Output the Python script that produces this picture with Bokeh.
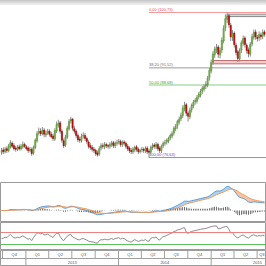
import numpy as np
import pandas as pd
from bokeh.plotting import figure
from bokeh.models import Range1d, Div, Span
from bokeh.layouts import column
from bokeh.embed import file_html
from bokeh.resources import INLINE

# ---------------- data (weekly candles) ----------------
first_week = "2012-09-27"

opens = [77.5, 77.9, 77.6, 78.1, 77.8, 78.4, 79.0, 78.6, 78.2, 78.0,
         78.4, 78.1, 78.4, 78.8, 78.4, 78.2, 77.8, 78.0, 77.4, 78.3,
         79.4, 80.7, 81.0, 80.6, 81.2, 80.4, 80.7, 81.0, 80.5, 80.2,
         79.7, 81.0, 82.0, 82.4, 81.0, 79.4, 78.7, 80.0, 81.4, 82.7,
         83.0, 81.4, 81.0, 80.3, 79.7, 79.4, 80.2, 80.3, 79.8, 79.2,
         78.6, 78.3, 78.0, 77.8, 77.4, 77.2, 78.2, 78.6, 78.4, 78.8,
         78.6, 78.5, 78.8, 79.1, 78.6, 79.0, 79.2, 79.3, 78.8, 79.2,
         79.0, 78.5, 78.2, 77.8, 77.6, 77.9, 78.4, 78.0, 77.6, 77.9,
         78.0, 77.8, 78.2, 77.7, 77.5, 78.3, 78.7, 78.4, 78.8, 78.2,
         77.8, 78.6, 79.0, 79.2, 79.4, 79.9, 80.2, 80.7, 81.4, 81.9,
         82.5, 83.1, 83.6, 84.8, 85.4, 84.0, 83.4, 84.6, 85.2, 85.9,
         86.0, 86.7, 87.0, 87.7, 88.0, 88.5, 88.7, 89.9, 91.0, 92.5,
         93.7, 94.5, 95.0, 93.7, 94.5, 96.0, 98.2, 99.6, 100.2, 98.6,
         96.6, 97.3, 95.3, 94.2, 93.0, 94.5, 95.6, 96.5, 95.3, 94.5,
         93.8, 95.5, 96.6, 97.5, 96.6, 96.5, 97.0, 96.8, 97.5]

highs = [78.2, 78.3, 78.4, 78.5, 78.9, 79.5, 79.3, 79.0, 78.6, 78.7,
         78.8, 78.9, 79.3, 79.1, 78.7, 78.5, 78.4, 78.3, 78.6, 79.8,
         81.0, 81.6, 81.5, 81.7, 81.5, 81.1, 81.4, 81.3, 80.9, 80.6,
         81.5, 82.6, 82.9, 82.7, 81.3, 79.8, 80.4, 81.9, 83.0, 83.4,
         83.2, 81.9, 81.3, 80.6, 80.1, 80.6, 80.8, 80.7, 80.1, 79.5,
         79.0, 78.7, 78.4, 78.1, 77.8, 78.5, 79.0, 79.0, 79.2, 79.1,
         78.9, 79.2, 79.4, 79.4, 79.3, 79.6, 79.7, 79.6, 79.5, 79.5,
         79.3, 78.9, 78.5, 78.2, 78.4, 78.6, 78.7, 78.3, 78.1, 78.4,
         78.3, 78.5, 78.5, 78.0, 78.6, 79.0, 79.0, 79.2, 79.1, 78.5,
         78.8, 79.3, 79.6, 79.8, 80.1, 80.6, 81.0, 81.8, 82.2, 82.9,
         83.4, 84.1, 85.3, 85.9, 85.7, 84.3, 84.9, 85.6, 86.2, 86.5,
         87.0, 87.5, 88.0, 88.5, 88.8, 89.3, 90.2, 91.5, 92.9, 94.3,
         95.1, 95.5, 95.3, 94.9, 96.6, 98.6, 100.4, 100.73, 100.5, 99.0,
         97.8, 97.6, 95.7, 94.5, 94.8, 96.1, 96.9, 96.8, 95.6, 94.9,
         95.8, 97.2, 97.9, 97.9, 97.0, 97.6, 97.4, 97.9, 97.8]

lows = [77.1, 77.2, 77.3, 77.4, 77.5, 78.1, 78.2, 77.8, 77.6, 77.7,
        77.8, 77.8, 78.1, 78.2, 77.8, 77.4, 77.5, 76.9, 77.1, 78.0,
        79.1, 80.3, 80.2, 80.3, 80.0, 80.0, 80.4, 80.1, 79.8, 79.4,
        79.4, 80.7, 81.6, 80.6, 79.1, 78.2, 78.4, 79.7, 81.1, 82.3,
        81.1, 80.6, 79.9, 79.2, 79.1, 79.1, 79.8, 79.4, 78.9, 78.1,
        77.9, 77.6, 77.4, 76.9, 76.8, 76.9, 77.8, 78.1, 78.0, 78.2,
        78.1, 78.1, 78.4, 78.2, 78.2, 78.6, 78.8, 78.4, 78.4, 78.6,
        78.1, 77.7, 77.4, 77.2, 77.2, 77.5, 77.6, 77.2, 77.3, 77.5,
        77.4, 77.4, 77.2, 76.63, 77.1, 77.9, 78.1, 78.0, 77.7, 77.4,
        77.4, 78.2, 78.6, 78.8, 79.0, 79.5, 79.8, 80.3, 81.0, 81.4,
        82.1, 82.7, 83.2, 84.3, 83.5, 82.6, 83.0, 84.1, 84.8, 85.4,
        85.6, 86.3, 86.6, 87.2, 87.6, 88.0, 88.3, 89.4, 90.6, 92.0,
        93.2, 94.0, 93.2, 93.1, 94.0, 95.6, 97.6, 99.0, 98.2, 96.0,
        96.0, 94.9, 93.6, 92.5, 92.6, 94.0, 95.2, 94.9, 93.9, 93.3,
        93.4, 95.1, 96.2, 96.2, 95.9, 96.0, 96.2, 96.3, 96.7]

closes = [77.8, 77.6, 78.0, 77.8, 78.5, 79.1, 78.5, 78.1, 78.0, 78.3,
          78.1, 78.5, 78.8, 78.5, 78.1, 77.8, 78.0, 77.3, 78.3, 79.5,
          80.6, 81.0, 80.6, 81.1, 80.5, 80.6, 81.0, 80.5, 80.1, 79.8,
          81.1, 82.1, 82.3, 81.0, 79.5, 78.6, 80.0, 81.5, 82.6, 83.0,
          81.5, 81.0, 80.3, 79.6, 79.5, 80.1, 80.3, 79.8, 79.3, 78.5,
          78.3, 78.0, 77.8, 77.3, 77.1, 78.1, 78.6, 78.5, 78.8, 78.6,
          78.5, 78.8, 79.0, 78.6, 79.0, 79.1, 79.3, 78.8, 79.1, 79.0,
          78.5, 78.1, 77.8, 77.6, 78.0, 78.3, 78.0, 77.6, 77.8, 78.0,
          77.8, 78.1, 77.6, 77.5, 78.3, 78.6, 78.5, 78.8, 78.1, 77.8,
          78.5, 79.0, 79.1, 79.5, 79.8, 80.3, 80.6, 81.5, 81.8, 82.6,
          83.0, 83.6, 84.8, 85.3, 84.0, 83.5, 84.5, 85.3, 85.8, 86.1,
          86.6, 87.1, 87.6, 88.1, 88.4, 88.8, 89.8, 91.1, 92.4, 93.8,
          94.6, 94.9, 93.8, 94.4, 96.1, 98.1, 99.7, 100.1, 98.7, 96.7,
          97.2, 95.4, 94.1, 93.1, 94.4, 95.7, 96.4, 95.4, 94.4, 93.9,
          95.4, 96.7, 97.4, 96.7, 96.4, 97.1, 96.7, 97.4, 97.1]

# Fibonacci retracement (from the low week to the high week)
fib_high = 100.73
fib_low = 76.63
fib_anchor_week = 83
fib_pcts = [0.0, 38.2, 50.0, 100.0]
fib_labels = ["0,00 (100,73)", "38,20 (91,52)", "50,00 (88,68)", "100,00 (76,63)"]

# drawn rectangles (price zones)
resist_zone = [100.05, 100.45]
resist_start_week = 127
support_zone = [92.2, 92.75]
support_start_week = 119

# time axis
quarter_starts = ["2012-10-01", "2013-01-01", "2013-04-01", "2013-07-01",
                  "2013-10-01", "2014-01-01", "2014-04-01", "2014-07-01", "2014-10-01",
                  "2015-01-01", "2015-04-01", "2015-07-01", "2015-10-01"]
quarter_labels = ["Q4", "Q1", "Q2", "Q3", "Q4", "Q1", "Q2", "Q3", "Q4",
                  "Q1", "Q2", "Q3"]
year_starts = ["2013-01-01", "2014-01-01", "2015-01-01", "2016-01-01"]
year_labels = ["2013", "2014", "2015"]

view_start = "2012-09-23"
view_end = "2015-08-07"

# ---------------- derived ----------------
dates = pd.date_range(first_week, periods=len(closes), freq="7D")
o = np.array(opens); c = np.array(closes)
h = np.array(highs); l = np.array(lows)
up = c >= o

x0 = pd.Timestamp(view_start); x1 = pd.Timestamp(view_end)
DAY = 86400000

def ema(arr, n):
    a = 2.0 / (n + 1)
    out = [arr[0]]
    for v in arr[1:]:
        out.append(out[-1] + a * (v - out[-1]))
    return np.array(out)

macd = ema(c, 12) - ema(c, 26)
signal = ema(macd, 9)
hist = macd - signal

diff = np.diff(c)
gains = np.where(diff > 0, diff, 0.0)
losses = np.where(diff < 0, -diff, 0.0)
ag = gains[:14].mean(); al = losses[:14].mean()
rsi = [50.0]
for g_, l_ in zip(gains, losses):
    ag = (ag * 13 + g_) / 14
    al = (al * 13 + l_) / 14
    rsi.append(100 - 100 / (1 + ag / al) if al > 0 else 100)
rsi = np.array(rsi)

W = 266
common = dict(width=W, x_axis_type="datetime", output_backend="svg",
              toolbar_location=None, min_border=0)

# top gradient strip
strip = Div(width=W, height=5, margin=0,
            styles={"background": "linear-gradient(#c4c4c4, #f4f4f4)"})

# ---------------- main price panel ----------------
p = figure(height=177, x_range=Range1d(x0, x1), y_range=Range1d(72.48, 101.89), **common)
p.axis.visible = False
p.grid.visible = False
p.outline_line_color = None

anchor = dates[fib_anchor_week]
fib_levels = [fib_high - pc / 100.0 * (fib_high - fib_low) for pc in fib_pcts]
fib_line_colors = ["#f29a9a", "#9a9a9a", "#86cc86", "#8c8cf0"]
fib_text_colors = ["#e05050", "#707070", "#40a040", "#5050d0"]

# zones
p.quad(left=[dates[resist_start_week]], right=[x1], bottom=[resist_zone[0]], top=[resist_zone[1]],
       fill_color="#d8d8d8", line_color="#8a8a8a", line_width=1)
p.quad(left=[dates[support_start_week]], right=[x1], bottom=[support_zone[0]], top=[support_zone[1]],
       fill_color="#f3c9c9", line_color="#c07070", line_width=1)

p.segment(x0=[anchor] * 4, x1=[x1] * 4, y0=fib_levels, y1=fib_levels,
          line_color=fib_line_colors, line_width=1)
p.text(x=[anchor] * 4, y=fib_levels, text=fib_labels, text_font_size="4px",
       text_baseline="bottom", text_color=fib_text_colors, y_offset=-0.5)

p.segment(x0=dates, x1=dates, y0=h, y1=l, line_color="#8c8c8c", line_width=1)
body_col = np.where(up, "#7cbf4a", "#d01010")
edge_col = np.where(up, "#4f8a2a", "#8a0000")
p.vbar(x=dates, width=5 * DAY, top=np.maximum(o, c), bottom=np.minimum(o, c),
       fill_color=body_col, line_color=edge_col, line_width=0.5)

# ---------------- MACD panel ----------------
u = np.max(np.abs(macd)) / 24.0
pm = figure(height=40, x_range=p.x_range, y_range=Range1d(-12 * u, 28 * u), **common)
pm.axis.visible = False
pm.grid.visible = False
pm.outline_line_color = "#9a9a9a"
pm.varea(x=dates, y1=signal, y2=np.maximum(macd, signal), fill_color="#a8cdf0", fill_alpha=0.9)
pm.varea(x=dates, y1=signal, y2=np.minimum(macd, signal), fill_color="#f7c09a", fill_alpha=0.9)
pm.vbar(x=dates, width=2.5 * DAY, top=hist, bottom=0, fill_color="#222222", line_color=None)
pm.line(dates, macd, line_color="#5b9bd5", line_width=1)
pm.line(dates, signal, line_color="#ee9a5a", line_width=1)

# ---------------- RSI panel ----------------
pr = figure(height=28, x_range=p.x_range, y_range=Range1d(10, 103.3), **common)
pr.axis.visible = False
pr.grid.visible = False
pr.outline_line_color = "#9a9a9a"
pr.add_layout(Span(location=70, dimension="width", line_color="#f08080", line_width=1))
pr.add_layout(Span(location=30, dimension="width", line_color="#5cbf5c", line_width=1))
pr.line(dates, rsi, line_color="#6e6e6e", line_width=0.8)

# ---------------- time axis ----------------
pa = figure(height=16, x_range=p.x_range, y_range=Range1d(0, 2), **common)
pa.axis.visible = False
pa.grid.visible = False
pa.outline_line_color = "#9a9a9a"
qs = pd.to_datetime(quarter_starts)
ys = pd.to_datetime(year_starts)
pa.segment(x0=[x0, x0], x1=[x1, x1], y0=[1, 2], y1=[1, 2], line_color="#a0a0a0", line_width=1)
pa.segment(x0=qs, x1=qs, y0=[1] * len(qs), y1=[2] * len(qs), line_color="#a0a0a0", line_width=1)
pa.segment(x0=ys, x1=ys, y0=[0] * len(ys), y1=[1] * len(ys), line_color="#a0a0a0", line_width=1)
qmid = [max(qs[i], x0) + (min(qs[i + 1], x1) - max(qs[i], x0)) / 2
        for i in range(len(quarter_labels))]
ymid = [ys[i] + (ys[i + 1] - ys[i]) / 2 for i in range(len(year_labels))]
pa.text(x=qmid, y=[1.5] * len(qmid), text=quarter_labels, text_font_size="4px",
        text_align="center", text_baseline="middle", text_color="#555555")
pa.text(x=ymid, y=[0.5] * len(ymid), text=year_labels, text_font_size="4px",
        text_align="center", text_baseline="middle", text_color="#555555")

layout = column(strip, p, pm, pr, pa, spacing=0)
open("out.html", "w").write(file_html(layout, INLINE))
